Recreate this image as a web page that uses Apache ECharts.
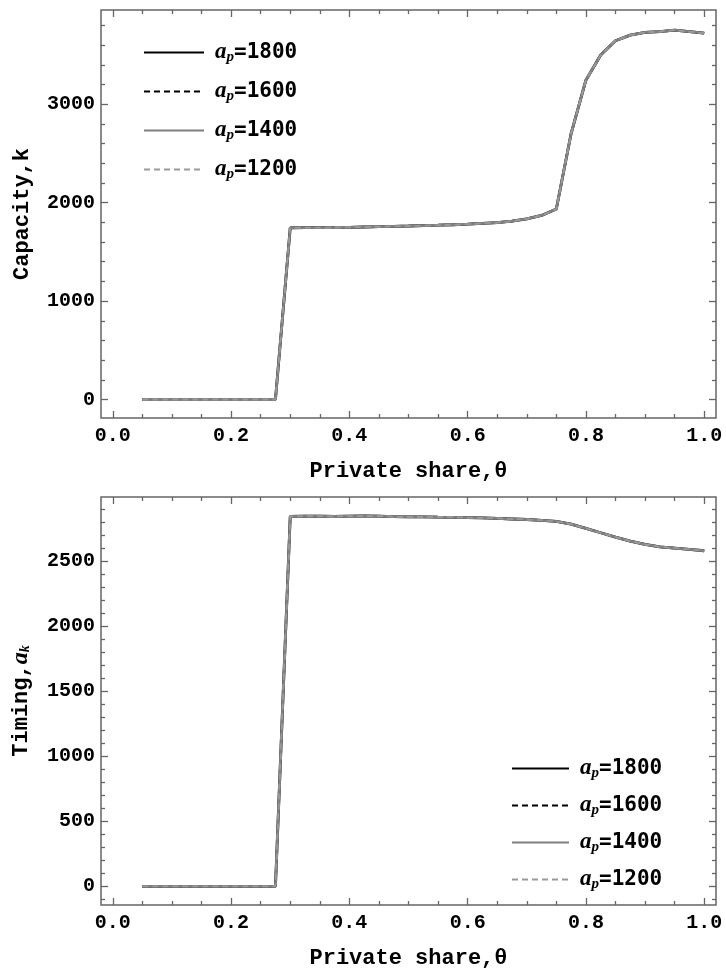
<!DOCTYPE html>
<html>
<head>
<meta charset="utf-8">
<script src="https://cdn.jsdelivr.net/npm/echarts@6/dist/echarts.min.js"></script>
<style>
html,body{margin:0;padding:0;background:#fff;}
#chart{width:726px;height:972px;}
</style>
</head>
<body>
<div id="chart"></div>
<script>
// ---- data ----
const theta = [0.05,0.075,0.1,0.125,0.15,0.175,0.2,0.225,0.25,0.275,
  0.3,0.325,0.35,0.375,0.4,0.425,0.45,0.475,0.5,0.525,0.55,0.575,0.6,0.625,0.65,0.675,
  0.7,0.725,0.75,0.775,0.8,0.825,0.85,0.875,0.9,0.925,0.95,0.975,1.0];
const capacity = [0,0,0,0,0,0,0,0,0,0,
  1745,1746,1747,1748,1750,1753,1756,1760,1763,1767,1771,1776,1782,1790,1798,1812,
  1835,1870,1935,2703,3245,3500,3645,3703,3730,3738,3754,3738,3722];
const timing = [0,0,0,0,0,0,0,0,0,0,
  2843,2845,2845,2843,2846,2847,2846,2842,2840,2840,2838,2837,2835,2832,2828,2824,
  2820,2814,2805,2785,2752,2718,2684,2654,2628,2610,2600,2590,2580];
const apValues = ['1800','1600','1400','1200'];
const xMajor = [0,0.2,0.4,0.6,0.8,1.0];
const xMinor = [0.05,0.1,0.15,0.25,0.3,0.35,0.45,0.5,0.55,0.65,0.7,0.75,0.85,0.9,0.95];
const yTopMajor = [0,1000,2000,3000];
const yTopMinor = [200,400,600,800,1200,1400,1600,1800,2200,2400,2600,2800,3200,3400,3600,3800];
const yBotMajor = [0,500,1000,1500,2000,2500,3000];
const yBotMinor = [-100,100,200,300,400,600,700,800,900,1100,1200,1300,1400,1600,1700,1800,1900,
  2100,2200,2300,2400,2600,2700,2800,2900];

// ---- styles ----
const FRAME = '#666666';
const MONO = 'Liberation Mono';
const FS = 20;     // tick labels
const FT = 22;     // axis titles
const seriesStyles = [
  {color:'#000000', width:2.8, type:'solid'},
  {color:'#000000', width:1.8, type:[6,4]},
  {color:'#7f7f7f', width:2.8, type:'solid'},
  {color:'#9a9a9a', width:1.8, type:[6,4]}
];

function pairs(xs, ys){ return xs.map((x,i)=>[x, ys[i]]); }

function xAxesFor(grid){
  const base = {type:'value', gridIndex:grid, min:-0.02, max:1.02,
    axisLine:{show:false, onZero:false}, splitLine:{show:false}};
  return [
    Object.assign({}, base, {position:'bottom',
      axisTick:{inside:true, length:7, customValues:xMajor, lineStyle:{color:FRAME, width:1.3}},
      axisLabel:{customValues:xMajor, formatter:v=>v.toFixed(1), margin:8,
        fontFamily:MONO, fontWeight:'bold', fontSize:FS, color:'#000'},
      name:'Private share,θ', nameLocation:'middle', nameGap:42,
      nameTextStyle:{fontFamily:MONO, fontWeight:'bold', fontSize:FT, color:'#000'}}),
    Object.assign({}, base, {position:'bottom',
      axisTick:{inside:true, length:4, customValues:xMinor, lineStyle:{color:FRAME, width:1.3}},
      axisLabel:{show:false}}),
    Object.assign({}, base, {position:'top',
      axisTick:{inside:true, length:7, customValues:xMajor, lineStyle:{color:FRAME, width:1.3}},
      axisLabel:{show:false}}),
    Object.assign({}, base, {position:'top',
      axisTick:{inside:true, length:4, customValues:xMinor, lineStyle:{color:FRAME, width:1.3}},
      axisLabel:{show:false}})
  ];
}
function yAxesFor(grid, min, max, major, minor, name){
  const base = {type:'value', gridIndex:grid, min:min, max:max,
    axisLine:{show:false, onZero:false}, splitLine:{show:false}};
  return [
    Object.assign({}, base, {position:'left',
      axisTick:{inside:true, length:7, customValues:major, lineStyle:{color:FRAME, width:1.3}},
      axisLabel:{customValues:major, margin:6, formatter:v=>String(v),
        fontFamily:MONO, fontWeight:'bold', fontSize:FS, color:'#000'},
      name:name, nameLocation:'middle', nameGap:68, nameRotate:90,
      nameTextStyle:{fontFamily:MONO, fontWeight:'bold', fontSize:FT, color:'#000',
        rich:{
          t:{fontFamily:MONO, fontWeight:'bold', fontSize:FT, color:'#000'},
          a:{fontFamily:'Liberation Serif', fontStyle:'italic', fontWeight:'bold', fontSize:FT+2, color:'#000'},
          s:{fontFamily:'Liberation Serif', fontStyle:'italic', fontWeight:'bold', fontSize:14, color:'#000', padding:[9,0,0,0]}
        }}}),
    Object.assign({}, base, {position:'left',
      axisTick:{inside:true, length:4, customValues:minor, lineStyle:{color:FRAME, width:1.3}},
      axisLabel:{show:false}}),
    Object.assign({}, base, {position:'right',
      axisTick:{inside:true, length:7, customValues:major, lineStyle:{color:FRAME, width:1.3}},
      axisLabel:{show:false}}),
    Object.assign({}, base, {position:'right',
      axisTick:{inside:true, length:4, customValues:minor, lineStyle:{color:FRAME, width:1.3}},
      axisLabel:{show:false}})
  ];
}

const series = [];
[[capacity,0],[timing,1]].forEach(([vals, g])=>{
  apValues.forEach((ap, i)=>{
    const st = seriesStyles[i];
    series.push({type:'line', name:ap, xAxisIndex:g*4, yAxisIndex:g*4,
      data:pairs(theta, vals), symbol:'none', silent:true, animation:false,
      lineStyle:{color:st.color, width:st.width, type:st.type},
      itemStyle:{color:st.color}});
  });
});

const legendRich = {
  a:{fontFamily:'Liberation Serif', fontStyle:'italic', fontWeight:'bold', fontSize:23, color:'#000'},
  p:{fontFamily:'Liberation Serif', fontStyle:'italic', fontWeight:'bold', fontSize:15, color:'#000', padding:[10,0,0,0]},
  n:{fontFamily:'DejaVu Sans Mono', fontWeight:'bold', fontSize:21, color:'#000'}
};
function legendFor(left, top, w, gap){
  return {orient:'vertical', left:left, top:top, padding:0, itemWidth:w, itemHeight:14, itemGap:gap,
    data:apValues, selectedMode:false,
    itemStyle:{opacity:0},
    formatter:n=>'{a|a}{p|p}{n|=' + n + '}',
    textStyle:{rich:legendRich, padding:[0,0,0,6]}};
}

const option = {
  animation:false,
  backgroundColor:'#fff',
  grid:[
    {left:101, top:10, width:615, height:408, show:true, borderColor:FRAME, borderWidth:1.5},
    {left:101, top:497, width:615, height:408, show:true, borderColor:FRAME, borderWidth:1.5}
  ],
  xAxis: xAxesFor(0).concat(xAxesFor(1)),
  yAxis: yAxesFor(0, -188, 3958, yTopMajor, yTopMinor, 'Capacity,k')
    .concat(yAxesFor(1, -143, 2993, yBotMajor, yBotMinor, '{t|Timing,}{a|a}{s|k}')),
  legend:[legendFor(143, 41, 60, 15), legendFor(511, 757, 57, 13)],
  series:series
};
const chart = echarts.init(document.getElementById('chart'), null, {renderer:'canvas'});
chart.setOption(option);
</script>
</body>
</html>
